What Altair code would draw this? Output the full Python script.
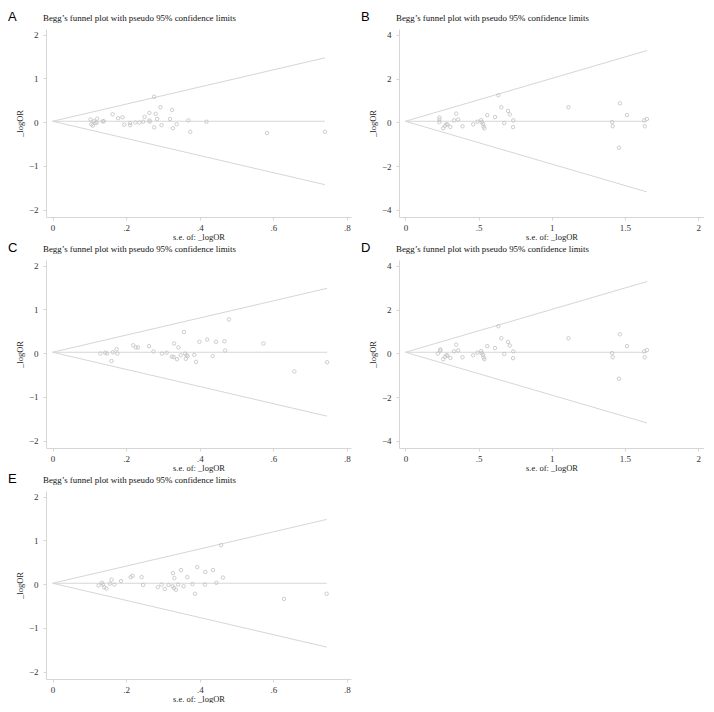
import altair as alt
import pandas as pd

TITLE = "Begg\u2019s funnel plot with pseudo 95% confidence limits"
XTITLE = "s.e. of: _logOR"
YTITLE = "_logOR"

# Panel A
a_se = [0.103, 0.105, 0.109, 0.112, 0.116, 0.120, 0.121, 0.136, 0.139, 0.163,
        0.178, 0.190, 0.195, 0.210, 0.211, 0.225, 0.236, 0.246, 0.250, 0.263,
        0.263, 0.264, 0.276, 0.276, 0.280, 0.284, 0.293, 0.296, 0.319, 0.325,
        0.327, 0.337, 0.369, 0.374, 0.418, 0.583, 0.740]
a_lor = [0.06, -0.05, -0.08, 0.02, -0.02, -0.01, 0.08, 0.02, 0.02, 0.18,
         0.09, 0.11, -0.06, -0.02, -0.07, -0.01, -0.01, 0.01, 0.12, 0.21,
         0.04, 0.01, 0.58, -0.12, 0.19, 0.07, 0.34, -0.07, 0.07, 0.28,
         -0.14, -0.05, 0.04, -0.22, 0.01, -0.25, -0.22]
a_pooled = 0.02

# Panel B
b_se = [0.232, 0.232, 0.232, 0.258, 0.270, 0.280, 0.287, 0.307, 0.332, 0.347,
        0.360, 0.390, 0.463, 0.492, 0.517, 0.521, 0.530, 0.534, 0.539, 0.559,
        0.612, 0.635, 0.655, 0.675, 0.701, 0.713, 0.737, 0.735, 1.114, 1.412,
        1.416, 1.465, 1.459, 1.514, 1.632, 1.635, 1.650]
b_lor = [0.22, 0.12, 0.01, -0.27, -0.16, -0.09, -0.10, -0.21, 0.09, 0.40,
         0.13, -0.18, -0.09, 0.03, 0.10, 0.01, -0.07, -0.19, -0.27, 0.33,
         0.24, 1.24, 0.69, -0.03, 0.52, 0.36, 0.09, -0.22, 0.69, 0.01,
         -0.18, 0.87, -1.16, 0.33, 0.09, -0.18, 0.15]
b_pooled = 0.05

# Panel C
c_se = [0.130, 0.143, 0.148, 0.160, 0.164, 0.174, 0.176, 0.219, 0.226, 0.232,
        0.262, 0.274, 0.297, 0.310, 0.324, 0.329, 0.330, 0.338, 0.342, 0.348,
        0.357, 0.360, 0.362, 0.364, 0.367, 0.385, 0.390, 0.399, 0.420, 0.435,
        0.444, 0.467, 0.469, 0.479, 0.573, 0.657, 0.746]
c_lor = [-0.01, 0.01, -0.01, -0.18, 0.02, 0.09, -0.01, 0.18, 0.13, 0.13,
         0.16, 0.04, -0.01, 0.01, -0.08, -0.09, 0.22, -0.14, 0.13, -0.05,
         0.48, -0.01, -0.13, -0.05, -0.07, -0.04, -0.20, 0.26, 0.31, -0.07,
         0.26, 0.27, 0.06, 0.77, 0.22, -0.42, -0.21]
c_pooled = 0.02

# Panel D
d_se = [0.222, 0.238, 0.238, 0.258, 0.270, 0.280, 0.287, 0.307, 0.332, 0.347,
        0.360, 0.390, 0.463, 0.492, 0.517, 0.521, 0.530, 0.534, 0.539, 0.559,
        0.612, 0.635, 0.655, 0.675, 0.701, 0.713, 0.737, 0.735, 1.114, 1.412,
        1.416, 1.465, 1.459, 1.514, 1.632, 1.635, 1.650]
d_lor = [-0.01, 0.18, 0.12, -0.27, -0.16, -0.09, -0.10, -0.21, 0.09, 0.40,
         0.13, -0.18, -0.09, 0.03, 0.10, 0.01, -0.07, -0.19, -0.27, 0.33,
         0.24, 1.24, 0.69, -0.03, 0.52, 0.36, 0.09, -0.22, 0.69, 0.01,
         -0.18, 0.87, -1.16, 0.33, 0.09, -0.18, 0.15]
d_pooled = 0.05

# Panel E
e_se = [0.125, 0.134, 0.137, 0.140, 0.146, 0.156, 0.160, 0.168, 0.186, 0.212,
        0.217, 0.242, 0.246, 0.286, 0.296, 0.305, 0.315, 0.326, 0.327, 0.330,
        0.331, 0.335, 0.341, 0.349, 0.356, 0.366, 0.380, 0.387, 0.393, 0.414,
        0.415, 0.436, 0.445, 0.458, 0.463, 0.629, 0.745]
e_lor = [-0.03, 0.03, -0.01, -0.07, -0.10, 0.01, 0.10, -0.01, 0.07, 0.16,
         0.19, 0.16, -0.02, -0.07, -0.01, -0.11, -0.02, -0.05, 0.25, -0.09,
         0.14, -0.13, -0.01, 0.32, -0.05, 0.16, 0.00, -0.22, 0.39, -0.01,
         0.28, 0.32, 0.03, 0.89, 0.15, -0.34, -0.22]
e_pooled = 0.02

small_xdom = [-0.018, 0.811]
small_xticks = [0, 0.2, 0.4, 0.6, 0.8]
small_ydom = [-2.17, 2.13]
small_yticks = [-2, -1, 0, 1, 2]
big_xdom = [-0.044, 2.04]
big_xticks = [0, 0.5, 1, 1.5, 2]
big_ydom = [-4.33, 4.27]
big_yticks = [-4, -2, 0, 2, 4]

W, H = 305, 188
SERIF = "Liberation Serif"
LINE = "#d6d6d6"
PT = "#c0c0c0"
XLABEL = ("datum.value == 0 ? '0' : (datum.value < 1 ? '.' + substring(toString(datum.value), 2)"
          " : toString(datum.value))")


def panel(letter, se, lor, pooled, xdom, xticks, ydom, yticks):
    semax = max(se)
    pts = pd.DataFrame({"se": se, "lor": lor})
    funnel = pd.DataFrame({
        "se": [0, semax, 0, semax],
        "lor": [pooled, pooled + 1.96 * semax, pooled, pooled - 1.96 * semax],
        "side": ["upper", "upper", "lower", "lower"],
    })
    mid = pd.DataFrame({"se": [0], "se2": [semax], "lor": [pooled]})
    xs = alt.Scale(domain=xdom, nice=False, zero=False)
    ys = alt.Scale(domain=ydom, nice=False, zero=False)
    xax = alt.Axis(values=xticks, labelExpr=XLABEL, title=XTITLE, grid=False,
                   labelPadding=3, titlePadding=0)
    yax = alt.Axis(values=yticks, title=YTITLE, grid=False, labelPadding=5,
                   titlePadding=4)
    lines = alt.Chart(funnel).mark_line(color=LINE, strokeWidth=1).encode(
        x=alt.X("se:Q", scale=xs, axis=xax),
        y=alt.Y("lor:Q", scale=ys, axis=yax),
        detail="side:N",
    )
    rule = alt.Chart(mid).mark_rule(color=LINE, strokeWidth=1).encode(
        x=alt.X("se:Q", scale=xs), x2="se2:Q", y=alt.Y("lor:Q", scale=ys)
    )
    points = alt.Chart(pts).mark_point(
        shape="circle", filled=False, size=12, color=PT, strokeWidth=0.8, opacity=1
    ).encode(x=alt.X("se:Q", scale=xs), y=alt.Y("lor:Q", scale=ys))
    title_t = alt.Chart(pd.DataFrame({"t": [TITLE]})).mark_text(
        align="left", baseline="alphabetic", font=SERIF, fontSize=8.9, color="#111"
    ).encode(text="t:N", x=alt.value(-3), y=alt.value(-8))
    letter_t = alt.Chart(pd.DataFrame({"t": [letter]})).mark_text(
        align="left", baseline="alphabetic", font="Liberation Sans", fontSize=13,
        color="#000"
    ).encode(text="t:N", x=alt.value(-38), y=alt.value(-8))
    return alt.layer(lines, rule, points, title_t, letter_t).properties(width=W, height=H)


pA = panel("A", a_se, a_lor, a_pooled, small_xdom, small_xticks, small_ydom, small_yticks)
pB = panel("B", b_se, b_lor, b_pooled, big_xdom, big_xticks, big_ydom, big_yticks)
pC = panel("C", c_se, c_lor, c_pooled, small_xdom, small_xticks, small_ydom, small_yticks)
pD = panel("D", d_se, d_lor, d_pooled, big_xdom, big_xticks, big_ydom, big_yticks)
pE = panel("E", e_se, e_lor, e_pooled, small_xdom, small_xticks, small_ydom, small_yticks)

chart = alt.vconcat(
    alt.hconcat(pA, pB, spacing=10),
    alt.hconcat(pC, pD, spacing=10),
    pE,
    spacing=1,
).properties(
    padding={"top": 3, "left": 0, "right": 0, "bottom": 0}
).configure_view(stroke=None).configure_axis(
    domainColor="#d6d6d6", tickColor="#d6d6d6", tickSize=3,
    labelFont=SERIF, labelFontSize=9, labelColor="#333",
    titleFont=SERIF, titleFontSize=8.5, titleFontWeight="normal", titleColor="#222",
).configure_axisY(labelAngle=0)

chart.save("out.html", embed_options={"renderer": "svg", "actions": False})
